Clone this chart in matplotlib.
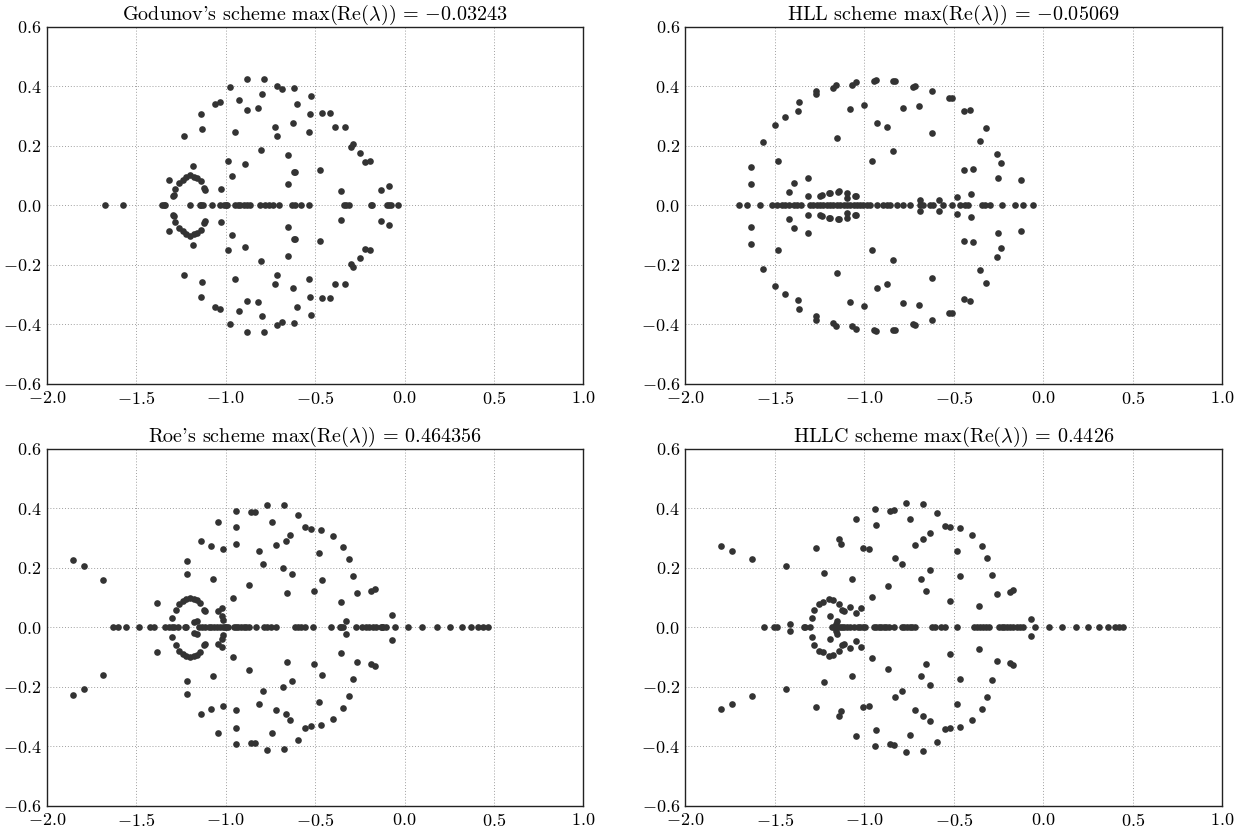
import numpy as np
import matplotlib
matplotlib.use("Agg")
import matplotlib.pyplot as plt

plt.rcParams["font.family"] = "serif"
plt.rcParams["font.serif"] = ["cmr10"]
plt.rcParams["mathtext.fontset"] = "cm"
plt.rcParams["axes.formatter.use_mathtext"] = True

# eigenvalues read off the picture: real ones, and the upper half of the
# complex conjugate pairs (the lower half is the mirror image)
godunov_real = [-1.677, -1.571, -1.355, -1.345, -1.338, -1.198, -1.145, -1.135, -1.125,
                -1.075, -1.030, -1.007, -1.000, -0.993, -0.946, -0.930, -0.918, -0.899,
                -0.880, -0.862, -0.810, -0.782, -0.759, -0.735, -0.701, -0.629, -0.610,
                -0.578, -0.532, -0.340, -0.325, -0.310, -0.190, -0.181, -0.097, -0.086,
                -0.075, -0.035]
godunov_re = [-0.881, -0.784, -0.976, -0.711, -0.685, -0.618, -0.522, -0.795, -0.924,
              -1.030, -1.062, -0.879, -0.817, -0.601, -0.526, -0.461, -0.418, -1.136,
              -1.132, -0.946, -0.722, -0.713, -0.625, -0.535, -0.386, -0.334, -1.235,
              -0.800, -0.299, -0.287, -0.250, -0.222, -0.192, -0.653, -0.985, -0.890,
              -0.470, -0.616, -0.610, -0.965, -1.183, -0.132, -0.086, -0.353, -0.651,
              -1.026, -1.317, -1.297, -1.290, -1.282, -1.261, -1.241, -1.224, -1.200,
              -1.179, -1.160, -1.140, -1.122, -1.114]
godunov_im = [0.425, 0.425, 0.398, 0.401, 0.393, 0.396, 0.368, 0.373, 0.354,
              0.348, 0.342, 0.322, 0.326, 0.340, 0.306, 0.311, 0.311, 0.309,
              0.258, 0.246, 0.264, 0.235, 0.278, 0.246, 0.263, 0.263, 0.234,
              0.187, 0.197, 0.206, 0.177, 0.146, 0.148, 0.171, 0.148, 0.141,
              0.120, 0.112, 0.112, 0.100, 0.132, 0.052, 0.066, 0.049, 0.071,
              0.055, 0.085, 0.032, 0.036, 0.057, 0.076, 0.087, 0.096, 0.101,
              0.096, 0.092, 0.081, 0.058, 0.053]

hll_real = [-1.702, -1.656, -1.581, -1.516, -1.487, -1.460, -1.442, -1.418, -1.395,
            -1.377, -1.351, -1.302, -1.284, -1.265, -1.247, -1.228, -1.209, -1.191,
            -1.172, -1.153, -1.135, -1.116, -1.098, -1.079, -1.060, -1.042, -1.023,
            -1.005, -0.986, -0.967, -0.930, -0.893, -0.874, -0.856, -0.819, -0.781,
            -0.744, -0.688, -0.670, -0.633, -0.614, -0.558, -0.512, -0.465, -0.437,
            -0.419, -0.344, -0.326, -0.298, -0.229, -0.158, -0.112, -0.056]
hll_re = [-1.633, -1.633, -1.567, -1.498, -1.483, -1.444, -1.418, -1.392, -1.367,
          -1.371, -1.312, -1.317, -1.271, -1.269, -1.245, -1.237, -1.198, -1.190,
          -1.174, -1.159, -1.155, -1.148, -1.140, -1.096, -1.096, -1.077, -1.068,
          -1.044, -1.053, -1.045, -1.001, -0.958, -0.945, -0.934, -0.928, -0.871,
          -0.839, -0.826, -0.837, -0.781, -0.729, -0.716, -0.694, -0.688, -0.621,
          -0.620, -0.584, -0.527, -0.510, -0.482, -0.445, -0.441, -0.409, -0.391,
          -0.406, -0.353, -0.322, -0.260, -0.238, -0.255, -0.121]
hll_im = [0.128, 0.072, 0.212, 0.270, 0.150, 0.298, 0.046, 0.076, 0.348,
          0.319, 0.091, 0.032, 0.373, 0.385, 0.032, 0.034, 0.043, 0.041,
          0.396, 0.405, 0.228, 0.045, 0.047, 0.043, 0.024, 0.323, 0.404,
          0.414, 0.031, 0.033, 0.339, 0.148, 0.418, 0.421, 0.278, 0.263,
          0.417, 0.419, 0.184, 0.327, 0.399, 0.401, 0.334, 0.017, 0.385,
          0.245, 0.018, 0.362, 0.362, 0.027, 0.118, 0.316, 0.320, 0.124,
          0.040, 0.217, 0.261, 0.172, 0.142, 0.094, 0.086]

roe_real = [-1.631, -1.599, -1.556, -1.485, -1.422, -1.399, -1.340, -1.315, -1.299,
            -1.287, -1.267, -1.228, -1.220, -1.147, -1.132, -1.114, -1.095, -1.080,
            -1.065, -1.049, -1.030, -1.015, -1.004, -0.996, -0.985, -0.955, -0.942,
            -0.929, -0.914, -0.899, -0.884, -0.869, -0.832, -0.787, -0.769, -0.746,
            -0.720, -0.614, -0.595, -0.576, -0.558, -0.513, -0.412, -0.362, -0.353,
            -0.345, -0.271, -0.237, -0.218, -0.200, -0.177, -0.159, -0.134, -0.124,
            -0.118, -0.106, -0.054, 0.019, 0.097, 0.179, 0.252, 0.323, 0.373,
            0.410, 0.438, 0.464]
roe_re = [-1.856, -1.793, -1.685, -1.384, -1.218, -1.218, -1.138, -1.082, -1.071,
          -1.041, -1.013, -1.043, -1.019, -1.019, -1.015, -0.959, -0.942, -0.944,
          -0.944, -0.869, -0.858, -0.834, -0.813, -0.791, -0.769, -0.739, -0.720,
          -0.679, -0.675, -0.660, -0.638, -0.627, -0.655, -0.593, -0.554, -0.522,
          -0.478, -0.466, -0.506, -0.463, -0.401, -0.343, -0.308, -0.287, -0.263,
          -0.353, -0.327, -0.187, -0.164, -0.069, -1.299, -1.280, -1.259, -1.239,
          -1.220, -1.201, -1.179, -1.159, -1.142, -1.122, -1.114, -1.175, -1.160]
roe_im = [0.226, 0.206, 0.161, 0.083, 0.225, 0.179, 0.291, 0.273, 0.162,
          0.356, 0.264, 0.054, 0.065, 0.039, 0.025, 0.099, 0.390, 0.339,
          0.279, 0.142, 0.389, 0.389, 0.258, 0.213, 0.412, 0.356, 0.276,
          0.200, 0.410, 0.292, 0.312, 0.180, 0.115, 0.379, 0.339, 0.332,
          0.249, 0.327, 0.122, 0.161, 0.307, 0.270, 0.229, 0.173, 0.115,
          0.087, 0.022, 0.122, 0.128, 0.042, 0.032, 0.060, 0.080, 0.089,
          0.095, 0.098, 0.095, 0.092, 0.083, 0.059, 0.054, 0.018, 0.022]

hllc_real = [-1.562, -1.507, -1.488, -1.339, -1.330, -1.302, -1.181, -1.168, -1.160,
             -1.153, -1.138, -1.125, -1.112, -1.097, -1.078, -1.056, -1.037, -1.022,
             -1.009, -0.998, -0.948, -0.933, -0.920, -0.907, -0.892, -0.879, -0.864,
             -0.836, -0.790, -0.777, -0.762, -0.747, -0.734, -0.719, -0.622, -0.607,
             -0.570, -0.547, -0.484, -0.389, -0.371, -0.352, -0.337, -0.318, -0.300,
             -0.244, -0.231, -0.218, -0.204, -0.184, -0.166, -0.147, -0.132, -0.110,
             -0.045, 0.032, 0.106, 0.181, 0.251, 0.313, 0.362, 0.403, 0.425, 0.444]
hllc_re = [-1.801, -1.737, -1.629, -1.439, -1.415, -1.270, -1.223, -1.143, -1.128,
           -1.194, -1.078, -1.067, -1.045, -1.019, -1.047, -1.009, -0.974, -0.955,
           -0.942, -0.937, -0.868, -0.855, -0.836, -0.827, -0.790, -0.764, -0.745,
           -0.719, -0.683, -0.672, -0.672, -0.654, -0.631, -0.631, -0.592, -0.547,
           -0.523, -0.523, -0.479, -0.462, -0.462, -0.398, -0.361, -0.344, -0.313,
           -0.287, -0.259, -0.184, -0.166, -0.067, -1.292, -1.279, -1.255, -1.231,
           -1.199, -1.175, -1.143, -1.122, -1.114, -1.160, -1.153]
hllc_im = [0.273, 0.258, 0.230, 0.208, 0.012, 0.266, 0.184, 0.297, 0.280,
           0.038, 0.068, 0.163, 0.047, 0.064, 0.364, 0.268, 0.263, 0.101,
           0.397, 0.343, 0.141, 0.393, 0.396, 0.235, 0.212, 0.418, 0.363,
           0.276, 0.163, 0.298, 0.416, 0.122, 0.316, 0.194, 0.385, 0.342,
           0.337, 0.088, 0.258, 0.333, 0.172, 0.312, 0.073, 0.273, 0.234,
           0.178, 0.114, 0.118, 0.127, 0.027, 0.031, 0.060, 0.078, 0.084,
           0.096, 0.094, 0.080, 0.060, 0.056, 0.013, 0.022]

titles = [r"Godunov's scheme max$(\mathrm{Re}(\lambda))$ = $-0.03243$",
          r"HLL scheme max$(\mathrm{Re}(\lambda))$ = $-0.05069$",
          r"Roe's scheme max$(\mathrm{Re}(\lambda))$ = $0.464356$",
          r"HLLC scheme max$(\mathrm{Re}(\lambda))$ = $0.4426$"]
panels = [(godunov_real, godunov_re, godunov_im),
          (hll_real, hll_re, hll_im),
          (roe_real, roe_re, roe_im),
          (hllc_real, hllc_re, hllc_im)]


def spectrum(real, re, im):
    re = np.asarray(re)
    im = np.asarray(im)
    x = np.concatenate([real, re, re])
    y = np.concatenate([np.zeros(len(real)), im, -im])
    return x, y


fig, axes = plt.subplots(2, 2, figsize=(12.4, 8.27), dpi=100)
fig.subplots_adjust(left=0.0377, right=0.9855, top=0.9674, bottom=0.0254,
                    wspace=0.19, hspace=0.182)

for ax, title, (real, re, im) in zip(axes.flat, titles, panels):
    x, y = spectrum(real, re, im)
    ax.plot(x, y, "o", color="#333333", markersize=4.8, markeredgewidth=0)
    ax.set_xlim(-2.0, 1.0)
    ax.set_ylim(-0.6, 0.6)
    ax.set_xticks(np.arange(-2.0, 1.01, 0.5))
    ax.set_yticks(np.arange(-0.6, 0.61, 0.2))
    ax.grid(True, linestyle=(0, (1, 2)), color="#a0a0a0", linewidth=0.7)
    ax.tick_params(length=0, labelsize=13, pad=4)
    for s in ax.spines.values():
        s.set_linewidth(1.0)
        s.set_color("#222222")
    ax.set_title(title, fontsize=14.5, pad=2)

plt.savefig("out.png", dpi=100)
